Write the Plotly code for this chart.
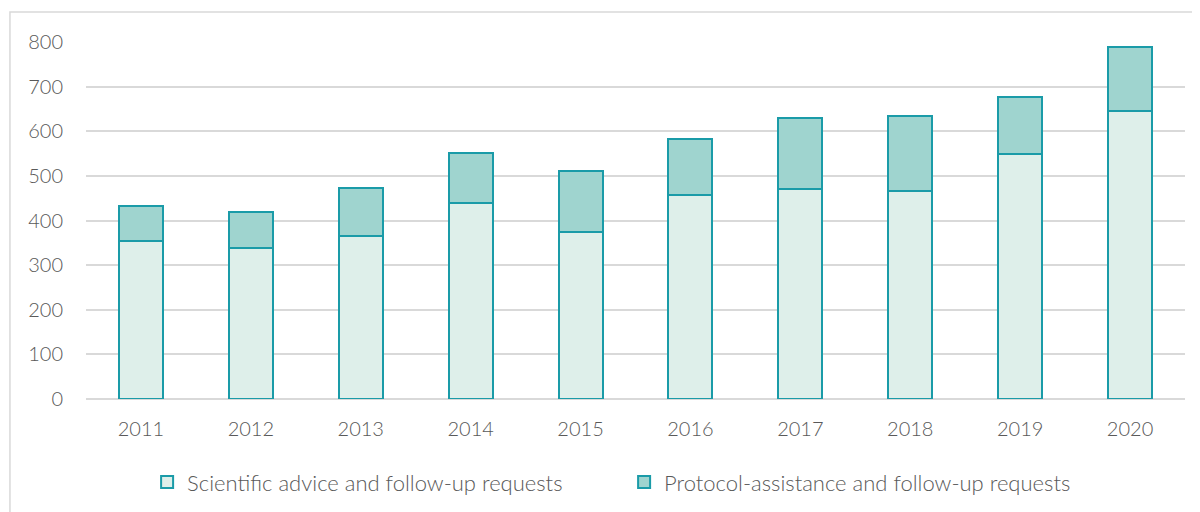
import plotly.graph_objects as go

years = ["2011", "2012", "2013", "2014", "2015", "2016", "2017", "2018", "2019", "2020"]
scientific = [354, 339, 365, 440, 374, 457, 471, 467, 549, 645]
totals = [433, 420, 473, 551, 511, 582, 629, 634, 676, 788]
protocol = [t - s for t, s in zip(totals, scientific)]

line_col = "#1A9BA8"
fig = go.Figure()
fig.add_trace(go.Bar(x=years, y=scientific, name="Scientific advice and follow-up requests",
                     marker=dict(color="#DEEFEA", line=dict(color=line_col, width=2))))
fig.add_trace(go.Bar(x=years, y=protocol, name="Protocol-assistance and follow-up requests",
                     marker=dict(color="#9FD4CF", line=dict(color=line_col, width=2))))

fig.update_layout(
    barmode="stack", bargap=0.6,
    width=1200, height=512,
    margin=dict(l=78, r=23, t=34, b=121, autoexpand=False),
    plot_bgcolor="white", paper_bgcolor="white",
    font=dict(family="Lato, Open Sans, sans-serif", size=20, color="#595959", weight=300),
    yaxis=dict(range=[0, 800], dtick=100, gridcolor="#D9D9D9", gridwidth=1.5,
               zeroline=True, zerolinecolor="#D9D9D9", zerolinewidth=1.5,
               ticks="", ticklabelstandoff=22, showline=False, automargin=False),
    xaxis=dict(showline=False, ticks="", showgrid=False, ticklabelstandoff=16, automargin=False),
    legend=dict(orientation="h", x=0.0556, xanchor="left", yref="container", y=0.074, yanchor="middle",
                font=dict(size=22, color="#595959", weight=300), traceorder="normal",
                itemwidth=30, tracegroupgap=0, entrywidth=432, entrywidthmode="pixels"),
    showlegend=True,
    shapes=[dict(type="rect", xref="paper", yref="paper", x0=-0.0692, x1=1.05, y0=-0.4, y1=1.084,
                 line=dict(color="#D9D9D9", width=1.5), fillcolor="rgba(0,0,0,0)", layer="below")],
)
fig.write_html("out.html")
